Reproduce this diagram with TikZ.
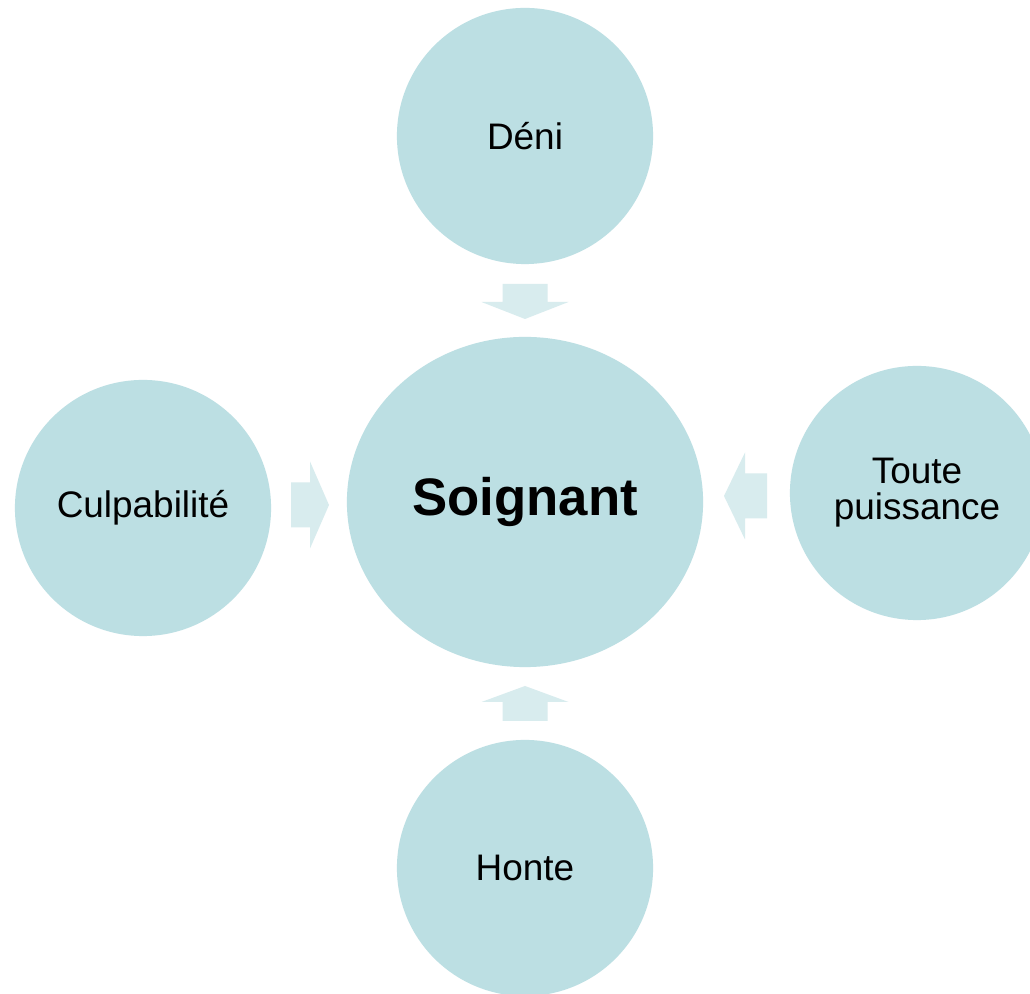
\documentclass[tikz,border=0pt]{standalone}
\usepackage{fontspec}
\setmainfont{Liberation Sans}
\usetikzlibrary{shapes.geometric}
\definecolor{bubblecol}{HTML}{BCDFE3}
\definecolor{arrowcol}{HTML}{D8ECEE}
\tikzset{
  every picture/.style={line join=miter},
  bubble/.style={circle, fill=bubblecol, inner sep=0pt, minimum size=2.56cm,
    align=center, font=\fontsize{10.5}{10.3}\selectfont},
  hub/.style={ellipse, fill=bubblecol, inner sep=0pt, minimum width=3.56cm,
    minimum height=3.30cm, font=\fontsize{15}{18}\selectfont\bfseries},
  arrowfill/.style={fill=arrowcol},
}
\begin{document}
\begin{tikzpicture}[x=0.01cm,y=0.01cm]
\clip (0,0) rectangle (1030,994);
\fill[white] (0,0) rectangle (1030,994);
\node[hub] (soignant) at (525,492) {Soignant};
\node[bubble] (deni) at (525,858) {Déni};
\node[bubble] (honte) at (525,126) {Honte};
\node[bubble] (culpa) at (143,486) {Culpabilité};
\node[bubble, minimum size=2.54cm] (toute) at (917,501) {Toute\\puissance};
% block arrows: start / rotation / shaft length / total length
\foreach \p/\r/\s/\l in {{525,710}/-90/18/35, {525,273}/90/19/35, {291,489}/0/19/38, {767,498}/180/22/43}{
  \fill[arrowfill, shift={(\p)}, rotate=\r]
    (0,-22.5) -- (\s,-22.5) -- (\s,-43.5) -- (\l,0) -- (\s,43.5) -- (\s,22.5) -- (0,22.5) -- cycle;
}
\end{tikzpicture}
\end{document}
